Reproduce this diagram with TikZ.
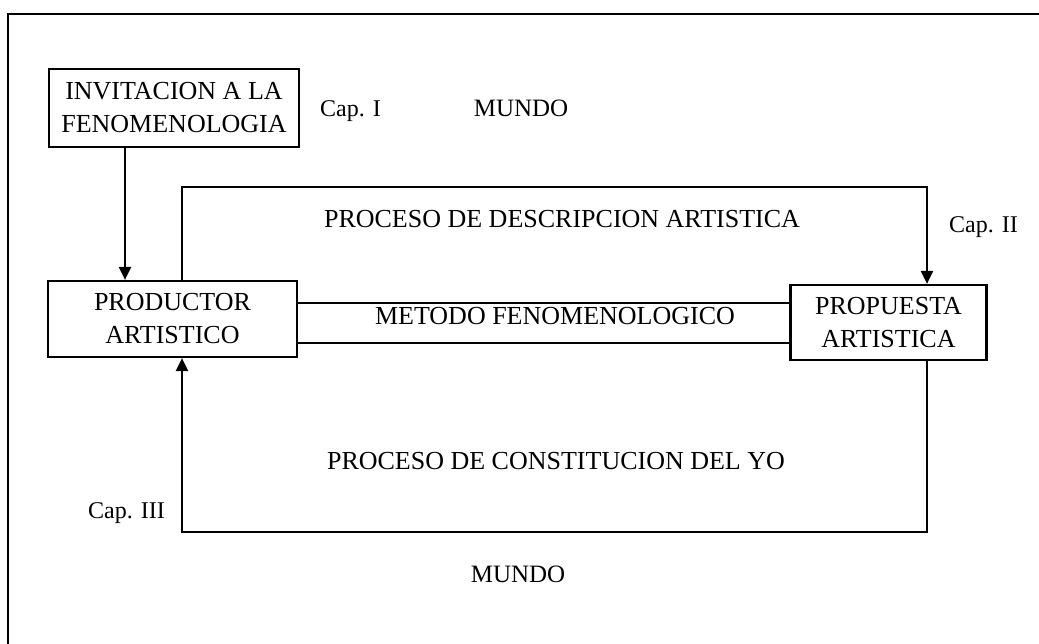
\documentclass[tikz,border=0pt]{standalone}
\usepackage{fontspec}
\setmainfont{Liberation Serif}
\usetikzlibrary{arrows.meta}
\tikzset{
  box/.style={draw, line width=2.2pt, inner sep=0pt, align=center,
    font=\fontsize{26}{33}\selectfont},
  ln/.style={line width=2.2pt},
  arr/.style={line width=2.2pt, -{Triangle[length=13pt,width=12pt]}},
  big/.style={inner sep=0pt, font=\fontsize{26}{33}\selectfont},
  caplbl/.style={inner sep=0pt, anchor=base west, font=\fontsize{24}{28}\selectfont},
  world/.style={inner sep=0pt, anchor=base, font=\fontsize{25}{30}\selectfont}
}
\begin{document}
\begin{tikzpicture}[x=1pt,y=-1pt]
\useasboundingbox (0,0) rectangle (1039,644);
% outer frame
\draw[ln] (1039,14) -- (8,14) -- (8,644);
% boxes
\node[box, minimum width=250pt, minimum height=78pt] (inv) at (174,108) {INVITACION A LA\\FENOMENOLOGIA};
\node[box, minimum width=249pt, minimum height=76pt] (prod) at (172.5,319) {PRODUCTOR\\ARTISTICO};
\node[box, minimum width=196pt, minimum height=75pt] (prop) at (888.5,322.5) {PROPUESTA\\ARTISTICA};
% helper coordinates
\coordinate (a1) at (125,0);
\coordinate (b1) at (182,187);
\coordinate (c1) at (927,187);
\coordinate (c2) at (927,532);
\coordinate (b2) at (182,532);
\coordinate (m1) at (0,303);
\coordinate (m2) at (0,343);
% connectors
\draw[arr] (inv.south -| a1) -- (prod.north -| a1);
\draw[arr] (prod.north -| b1) -- (b1) -- (c1) -- (prop.north -| c1);
\draw[arr] (prop.south -| c2) -- (c2) -- (b2) -- (prod.south -| b2);
\draw[ln] (prod.east |- m1) -- (prop.west |- m1);
\draw[ln] (prod.east |- m2) -- (prop.west |- m2);
% labels
\node[big] (desc) at (562,219) {PROCESO DE DESCRIPCION ARTISTICA};
\node[big] (met) at (555,316) {METODO FENOMENOLOGICO};
\node[big] (cons) at (556,461) {PROCESO DE CONSTITUCION DEL YO};
\node[caplbl] (cap1) at (320,117) {Cap. I};
\node[caplbl] (cap2) at (949,233) {Cap. II};
\node[caplbl] (cap3) at (88,518) {Cap. III};
\node[world] (mundo1) at (521,117) {MUNDO};
\node[world] (mundo2) at (518,582) {MUNDO};
\end{tikzpicture}
\end{document}
